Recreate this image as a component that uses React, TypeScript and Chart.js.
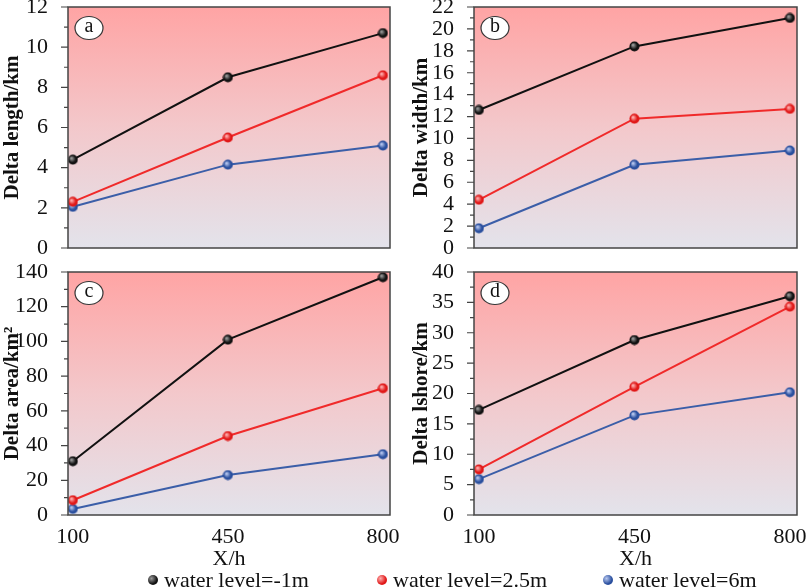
import { useEffect, useRef } from "react";
import { Chart, registerables } from "chart.js";

Chart.register(...registerables);

const xValues = [100, 450, 800];
const xTicks = [100, 450, 800];
const seriesLabels = ["water level=-1m", "water level=2.5m", "water level=6m"];

// (a) delta length, km
const lengthLow = [4.4, 8.5, 10.7];
const lengthMid = [2.3, 5.5, 8.6];
const lengthHigh = [2.05, 4.15, 5.1];

// (b) delta width, km
const widthLow = [12.6, 18.4, 21.0];
const widthMid = [4.4, 11.8, 12.7];
const widthHigh = [1.8, 7.6, 8.9];

// (c) delta area, km2
const areaLow = [31, 101, 137];
const areaMid = [8.5, 45.5, 73];
const areaHigh = [3.5, 23, 35];

// (d) delta shoreline, km
const shoreLow = [17.3, 28.8, 36];
const shoreMid = [7.5, 21.1, 34.3];
const shoreHigh = [5.9, 16.4, 20.2];

const FONT = "'Liberation Serif', 'Times New Roman', serif";
const lineColors = ["#111111", "#f02a2a", "#3b5ea8"];
const dotColors = [
  ["#9a9a9a", "#111111"],
  ["#ffb0b0", "#e01818"],
  ["#b8c8f0", "#2a4f9e"],
];

type Panel = {
  tag: string;
  yTitle: string;
  yMax: number;
  yStep: number;
  series: number[][];
  showX: boolean;
  left: number;
  top: number;
  width: number;
  height: number;
  yWidth: number;
  padTop: number;
  padRight: number;
  padBottom: number;
  xHeight: number;
};

const panels: Panel[] = [
  {
    tag: "a", yTitle: "Delta length/km", yMax: 12, yStep: 2,
    series: [lengthLow, lengthMid, lengthHigh], showX: false,
    left: 0, top: 0, width: 400, height: 255, yWidth: 68,
    padTop: 5, padRight: 10, padBottom: 7, xHeight: 0,
  },
  {
    tag: "b", yTitle: "Delta width/km", yMax: 22, yStep: 2,
    series: [widthLow, widthMid, widthHigh], showX: false,
    left: 409, top: 0, width: 400, height: 255, yWidth: 65,
    padTop: 5, padRight: 12, padBottom: 7, xHeight: 0,
  },
  {
    tag: "c", yTitle: "Delta area/km\u00b2", yMax: 140, yStep: 20,
    series: [areaLow, areaMid, areaHigh], showX: true,
    left: 0, top: 262, width: 409, height: 310, yWidth: 68,
    padTop: 10, padRight: 19, padBottom: 0, xHeight: 57,
  },
  {
    tag: "d", yTitle: "Delta lshore/km", yMax: 40, yStep: 5,
    series: [shoreLow, shoreMid, shoreHigh], showX: true,
    left: 409, top: 262, width: 400, height: 310, yWidth: 65,
    padTop: 10, padRight: 12, padBottom: 0, xHeight: 57,
  },
];

function makeDot(light: string, dark: string) {
  const c = document.createElement("canvas");
  c.width = 11;
  c.height = 11;
  const ctx = c.getContext("2d")!;
  const g = ctx.createRadialGradient(4, 4, 0.5, 5.5, 5.5, 5.5);
  g.addColorStop(0, light);
  g.addColorStop(0.6, dark);
  g.addColorStop(1, dark);
  ctx.fillStyle = g;
  ctx.beginPath();
  ctx.arc(5.5, 5.5, 5, 0, Math.PI * 2);
  ctx.fill();
  return c;
}

function panelPlugin(p: Panel) {
  return {
    id: "panel-" + p.tag,
    beforeDatasetsDraw(chart: Chart) {
      const { ctx, chartArea: a } = chart;
      ctx.save();
      const g = ctx.createLinearGradient(0, a.top, 0, a.bottom);
      g.addColorStop(0, "#ffa4a4");
      g.addColorStop(0.5, "#f3c8cb");
      g.addColorStop(1, "#e3e3eb");
      ctx.fillStyle = g;
      ctx.fillRect(a.left, a.top, a.right - a.left, a.bottom - a.top);
      ctx.restore();
    },
    afterDraw(chart: Chart) {
      const { ctx, chartArea: a } = chart;
      const y = chart.scales.y;
      ctx.save();
      ctx.strokeStyle = "#444";
      ctx.lineWidth = 1.5;
      ctx.strokeRect(a.left, a.top, a.right - a.left, a.bottom - a.top);
      // major and minor ticks on the value axis
      ctx.lineWidth = 1.2;
      ctx.beginPath();
      for (let v = 0; v <= p.yMax + 1e-9; v += p.yStep / 2) {
        const py = y.getPixelForValue(v);
        const major = Math.abs(v / p.yStep - Math.round(v / p.yStep)) < 1e-6;
        ctx.moveTo(a.left, py);
        ctx.lineTo(a.left - (major ? 7 : 4), py);
      }
      ctx.stroke();
      // panel tag
      const cx = a.left + 21;
      const cy = a.top + 21;
      ctx.beginPath();
      ctx.ellipse(cx, cy, 14, 11.5, 0, 0, Math.PI * 2);
      ctx.fillStyle = "#fff";
      ctx.fill();
      ctx.strokeStyle = "#333";
      ctx.lineWidth = 1.2;
      ctx.stroke();
      ctx.fillStyle = "#111";
      ctx.font = `20px ${FONT}`;
      ctx.textAlign = "center";
      ctx.textBaseline = "middle";
      ctx.fillText(p.tag, cx, cy - 1);
      ctx.restore();
    },
  };
}

function PanelChart({ p }: { p: Panel }) {
  const ref = useRef<HTMLCanvasElement>(null);

  useEffect(() => {
    if (!ref.current) return;
    const dots = dotColors.map(([l, d]) => makeDot(l, d));
    const tickFont = { family: FONT, size: 22 };

    const chart = new Chart(ref.current, {
      type: "line",
      data: {
        datasets: p.series.map((vals, i) => ({
          label: seriesLabels[i],
          data: xValues.map((x, j) => ({ x, y: vals[j] })),
          borderColor: lineColors[i],
          backgroundColor: lineColors[i],
          borderWidth: 2,
          pointStyle: dots[i],
          pointRadius: 5,
          tension: 0,
        })),
      },
      options: {
        animation: false,
        responsive: true,
        maintainAspectRatio: false,
        layout: {
          padding: { left: 0, right: p.padRight, top: p.padTop, bottom: p.padBottom },
        },
        plugins: {
          legend: { display: false },
          tooltip: { enabled: false },
        },
        scales: {
          x: {
            type: "linear",
            min: 89,
            max: 816,
            afterBuildTicks: (s: any) => {
              s.ticks = xTicks.map((v) => ({ value: v }));
            },
            afterFit: (s: any) => {
              s.height = p.xHeight;
              s.paddingLeft = 0;
              s.paddingRight = 0;
            },
            grid: { display: false },
            border: { display: false },
            ticks: {
              display: p.showX,
              font: tickFont,
              color: "#111",
              padding: 1,
              maxRotation: 0,
              autoSkip: false,
            },
            title: {
              display: p.showX,
              text: "X/h",
              font: tickFont,
              color: "#111",
              padding: { top: 0, bottom: 0 },
            },
          },
          y: {
            min: 0,
            max: p.yMax,
            afterFit: (s: any) => {
              s.width = p.yWidth;
              s.paddingTop = 0;
              s.paddingBottom = 0;
            },
            grid: { display: false },
            border: { display: false },
            ticks: {
              stepSize: p.yStep,
              autoSkip: false,
              font: tickFont,
              color: "#111",
              padding: 12,
            },
            title: {
              display: true,
              text: p.yTitle,
              font: { family: FONT, size: 21, weight: "bold" },
              color: "#111",
              padding: 0,
            },
          },
        },
      },
      plugins: [panelPlugin(p)],
    } as any);

    return () => chart.destroy();
  }, [p]);

  return (
    <div
      style={{
        position: "absolute",
        left: p.left,
        top: p.top,
        width: p.width,
        height: p.height,
      }}
    >
      <canvas ref={ref} />
    </div>
  );
}

const legendX = [153, 382, 608];

export default function App() {
  return (
    <div
      style={{
        position: "absolute",
        left: 0,
        top: 0,
        width: 809,
        height: 588,
        background: "#fff",
        overflow: "hidden",
      }}
    >
      {panels.map((p) => (
        <PanelChart key={p.tag} p={p} />
      ))}
      {seriesLabels.map((label, i) => (
        <div
          key={label}
          style={{
            position: "absolute",
            left: legendX[i] - 5,
            top: 567,
            height: 26,
            display: "flex",
            alignItems: "center",
            fontFamily: FONT,
            fontSize: 22,
            color: "#111",
            whiteSpace: "nowrap",
          }}
        >
          <span
            style={{
              display: "inline-block",
              width: 10,
              height: 10,
              borderRadius: "50%",
              marginRight: 6,
              background: `radial-gradient(circle at 35% 35%, ${dotColors[i][0]} 0%, ${dotColors[i][1]} 60%)`,
            }}
          />
          {label}
        </div>
      ))}
    </div>
  );
}
